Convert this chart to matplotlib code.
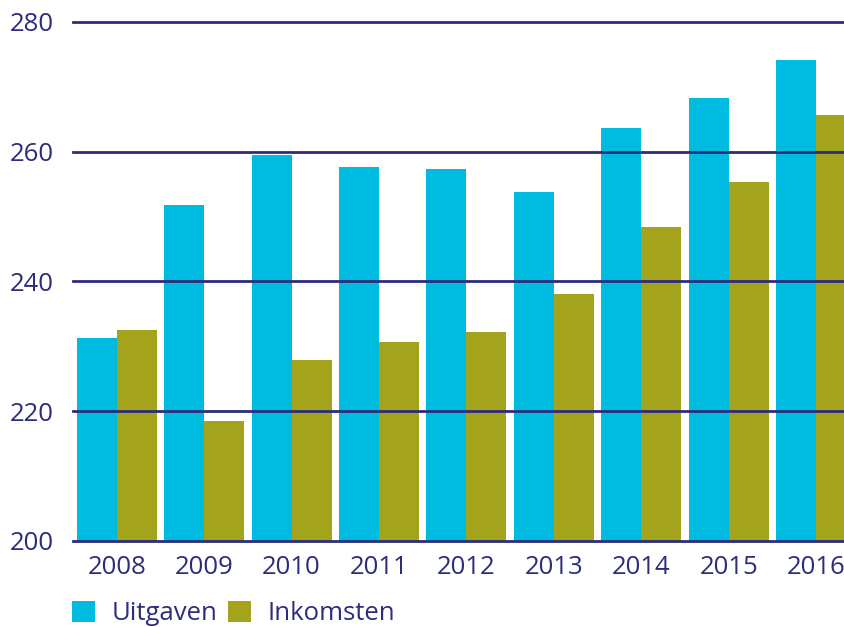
import matplotlib
matplotlib.use("Agg")
import matplotlib.pyplot as plt
from matplotlib.patches import Patch
import numpy as np

years = ["2008", "2009", "2010", "2011", "2012", "2013", "2014", "2015", "2016"]
uitgaven = [231.3, 251.8, 259.5, 257.6, 257.3, 253.8, 263.7, 268.3, 274.1]
inkomsten = [232.5, 218.5, 227.9, 230.7, 232.2, 238.1, 248.4, 255.3, 265.7]
yticks = [200, 220, 240, 260, 280]

c_u = "#00BBE0"
c_i = "#A3A41B"
navy = "#2B2D7C"

plt.rcParams['font.family'] = ['Open Sans', 'DejaVu Sans']

W, H = 845, 627
fig = plt.figure(figsize=(W / 100, H / 100), dpi=100)
ax = fig.add_axes([73 / W, 1 - 541 / H, 1 - 73 / W, (541 - 22) / H])

x = np.arange(len(years))
bw = 40 / 87.5
ax.bar(x - bw / 2, np.array(uitgaven) - 200, bottom=200, width=bw, color=c_u, zorder=1)
ax.bar(x + bw / 2, np.array(inkomsten) - 200, bottom=200, width=bw, color=c_i, zorder=1)

for yv in yticks:
    ax.axhline(yv, color=navy, lw=2, zorder=3, clip_on=False)

ax.set_ylim(200, 280)
ax.set_xlim(-0.5, 8.33)
ax.set_xticks(x)
ax.set_xticklabels(years)
ax.set_yticks(yticks)
ax.tick_params(axis='both', length=0, labelsize=18.5, colors=navy)
ax.tick_params(axis='x', pad=10)
ax.tick_params(axis='y', pad=14)
for s in ax.spines.values():
    s.set_visible(False)

handles = [Patch(facecolor=c_u, edgecolor='none'), Patch(facecolor=c_i, edgecolor='none')]
leg = fig.legend(handles, ["Uitgaven", "Inkomsten"], loc='upper left',
                 bbox_to_anchor=(72 / W, 1 - 601 / H), ncol=2, frameon=False,
                 fontsize=18.5, handlelength=0.89, handleheight=0.89,
                 handletextpad=0.65, columnspacing=0.4, borderpad=0, borderaxespad=0)
for t in leg.get_texts():
    t.set_color(navy)

fig.savefig("out.png", dpi=100)
